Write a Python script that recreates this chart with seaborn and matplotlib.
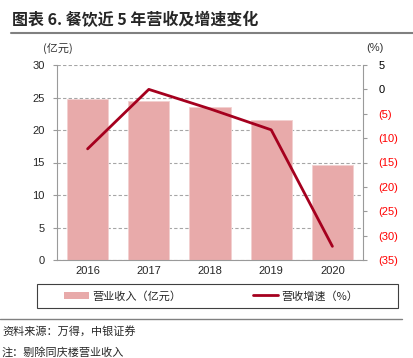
import numpy as np
import pandas as pd
import matplotlib
matplotlib.use("Agg")
import matplotlib.pyplot as plt
import seaborn as sns
from matplotlib.patches import Patch, Rectangle
from matplotlib.lines import Line2D

years = ["2016", "2017", "2018", "2019", "2020"]
revenue = [24.8, 24.5, 23.5, 21.5, 14.6]
growth = [-12.2, 0.0, -4.0, -8.3, -32.2]
left_ticks = [0, 5, 10, 15, 20, 25, 30]
right_ticks = [5, 0, -5, -10, -15, -20, -25, -30, -35]

sns.set_theme(style="white")
plt.rcParams['font.family'] = ['Liberation Sans', 'Noto Sans CJK SC']

W, H = 414, 358
fig = plt.figure(figsize=(W / 100, H / 100), dpi=100)

def fx(px):
    return px / W

def fy(py):
    return 1 - py / H

ax = fig.add_axes([fx(57), fy(260), fx(363) - fx(57), fy(65) - fy(260)])
df = pd.DataFrame({"year": years, "revenue": revenue, "growth": growth})
bar_color = "#E8AAAA"
line_color = "#A5001E"
sns.barplot(data=df, x="year", y="revenue", ax=ax, color=bar_color,
            saturation=1, width=0.67, edgecolor="#F2D0D0", linewidth=0.6, zorder=2)
ax.set_xlim(-0.5, 4.5)
ax.set_ylim(0, 30)
ax.set_yticks(left_ticks)
ax.set_yticklabels([str(t) for t in left_ticks], fontsize=8)
ax.set_xlabel("")
ax.set_ylabel("")
ax.yaxis.grid(True, linestyle=(0, (3, 2)), color="#A6A6A6", linewidth=0.8, zorder=0)
ax.set_axisbelow(True)
for s in ["top", "right"]:
    ax.spines[s].set_visible(False)
for s in ["left", "bottom"]:
    ax.spines[s].set_color("#9A9A9A")
    ax.spines[s].set_linewidth(0.8)
ax.set_xticks(range(len(years)))
ax.set_xticklabels(years, fontsize=8)
ax.tick_params(axis="x", length=0, pad=4)
ax.set_xticks(np.arange(0.5, len(years), 1), minor=True)
ax.tick_params(axis="x", which="minor", length=3, color="#9A9A9A", width=0.8)
ax.tick_params(axis="y", length=3, color="#9A9A9A", width=0.8, pad=6)

ax2 = ax.twinx()
sns.lineplot(x=np.arange(len(years)), y=growth, ax=ax2, color=line_color,
             linewidth=2.0, zorder=3)
ax2.set_ylim(-35, 5)
ax2.set_yticks(right_ticks)
labels = [str(t) if t >= 0 else f"({-t})" for t in right_ticks]
ax2.set_yticklabels(labels, fontsize=8)
for t, lab in zip(right_ticks, ax2.get_yticklabels()):
    lab.set_color("black" if t >= 0 else "#FF0000")
ax2.tick_params(axis="y", length=3, color="#9A9A9A", width=0.8, pad=8)
for s in ["top", "left", "bottom"]:
    ax2.spines[s].set_visible(False)
ax2.spines["right"].set_color("#9A9A9A")
ax2.spines["right"].set_linewidth(0.8)
ax2.set_xlim(-0.5, 4.5)

# title
fig.text(fx(12), fy(20), "图表 6. 餐饮近 5 年营收及增速变化", fontsize=11.5, fontweight="bold",
         va="center", ha="left", family=["Noto Sans CJK SC", "Liberation Sans"])
fig.add_artist(Line2D([fx(11), fx(414)], [fy(33), fy(33)], color="#808080", linewidth=1.5))

# unit labels
fig.text(fx(58), fy(48), "(亿元)", fontsize=8, ha="center", va="center",
         family=["Noto Sans CJK SC", "Liberation Sans"], color="#333333")
fig.text(fx(375), fy(48), "(%)", fontsize=8, ha="center", va="center", color="#333333")

# legend box
fig.add_artist(Rectangle((fx(37), fy(308)), fx(398) - fx(37), fy(284) - fy(308),
                         fill=False, edgecolor="#404040", linewidth=0.8))
handles = [Patch(facecolor=bar_color, edgecolor="none", label="营业收入（亿元）"),
           Line2D([], [], color=line_color, linewidth=2.0, label="营收增速（%）")]
fig.legend(handles=handles, loc="center", bbox_to_anchor=(fx(211), fy(296)), ncol=2,
           frameon=False, fontsize=8, handlelength=2.2, handleheight=0.7,
           columnspacing=6.5, handletextpad=0.3,
           prop={"family": ["Noto Sans CJK SC", "Liberation Sans"], "size": 8})

# bottom separator and source
fig.add_artist(Line2D([fx(0), fx(402)], [fy(319), fy(319)], color="#808080", linewidth=1.0))
fig.text(fx(2), fy(331), "资料来源：万得，中银证券", fontsize=8, ha="left", va="center",
         family=["Noto Sans CJK SC", "Liberation Sans"], style="italic")
fig.text(fx(2), fy(352), "注：剔除同庆楼营业收入", fontsize=8, ha="left", va="center",
         family=["Noto Sans CJK SC", "Liberation Sans"], style="italic")

fig.savefig("out.png", dpi=100)
